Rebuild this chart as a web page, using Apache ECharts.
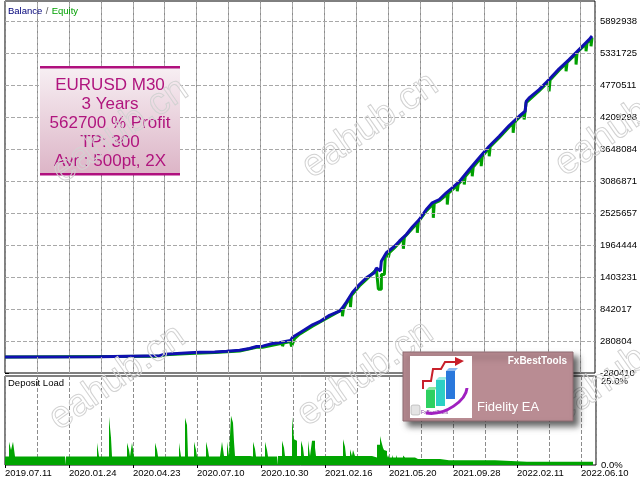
<!DOCTYPE html>
<html><head><meta charset="utf-8">
<script src="https://cdn.jsdelivr.net/npm/echarts@6/dist/echarts.min.js"></script>
<style>html,body{margin:0;padding:0;background:#fff}#c{width:640px;height:480px}</style>
</head><body><div id="c"></div>
<script>
// ---- data ----
const dateLabels = ['2019.07.11','2020.01.24','2020.04.23','2020.07.10','2020.10.30','2021.02.16','2021.05.20','2021.09.28','2022.02.11','2022.06.10'];
const dateTickPos = [0,64,128,192,256,320,384,448,512,576];
const gridX = [32,64,96,128,160,192,224,256,288,320,352,384,416,448,480,512,544,576];
const yTicks = [-280410,280804,842017,1403231,1964444,2525657,3086871,3648084,4209298,4770511,5331725,5892938];
const loadTicks = [0,25];

const balanceX = [0,95,155,160,185,195,210,222,235,245,252,258,268,275,282,286,288,295,308,315,325,335,338,342,348,355,362,370,372,376,377,382,390,395,402,408,415,422,428,435,442,448,455,465,475,485,495,505,515,521,522,525,535,545,555,565,575,585,588];
const balanceV = [1000,5000,22000,50000,75000,85000,90000,102000,120000,150000,185000,190000,237000,250000,278000,290000,345000,422000,565000,620000,730000,804000,863000,965000,1132000,1272000,1389000,1480000,1560000,1510000,1680000,1828000,1938000,2031000,2148000,2280000,2411000,2587000,2704000,2762000,2880000,2967000,3074000,3288000,3493000,3696000,3872000,4059000,4222000,4310000,4480000,4545000,4690000,4866000,5053000,5216000,5391000,5566000,5628000];

const equityX = [0,155,160,185,210,235,252,258,258,259,275,278,278,279,286,287,287,289,290,295,308,325,338,338,339,342,346,346,347,355,362,372,374,374,377,377,380,381,384,384,385,390,395,399,399,400,408,413,413,414,422,429,429,430,435,443,443,444,453,453,454,460,460,461,468,468,469,477,477,478,485,485,486,495,505,509,509,510,520,520,522,522,535,545,545,546,555,562,562,563,572,572,573,582,582,583,587,587,588];
const equityV = [1000,12000,38000,62000,78000,105000,170000,172000,145000,175000,232000,240000,190000,245000,270000,265000,185000,185000,320000,400000,540000,705000,835000,716000,840000,940000,1050000,877000,1080000,1245000,1362000,1535000,1540000,1189000,1189000,1447000,1447000,1790000,1800000,1745000,1830000,1913000,2006000,2090000,1898000,2100000,2255000,2350000,2178000,2370000,2562000,2690000,2441000,2700000,2737000,2855000,2674000,2870000,3010000,2907000,3030000,3150000,3025000,3165000,3310000,3170000,3330000,3500000,3346000,3515000,3670000,3521000,3690000,3847000,4034000,4100000,3931000,4115000,4285000,4164000,4164000,4460000,4665000,4840000,4660000,4860000,5028000,5150000,5011000,5165000,5320000,5128000,5340000,5490000,5362000,5510000,5580000,5449000,5600000];

const loadX = [0,4,6,8,10,60,61,92,94,104,106,107,122,124,125,127,129,150,152,153,174,176,180,182,183,189,191,192,201,203,204,215,217,219,222,224,226,228,229,230,245,248,250,251,260,262,263,272,273,277,279,280,287,289,290,292,296,298,299,303,305,307,310,311,338,340,341,345,347,348,350,367,372,375,376,378,379,381,382,383,384,387,388,391,392,398,400,410,413,415,428,430,435,444,446,447,448,455,457,459,461,465,467,477,478,490,522,523,543,545,575,576,578,579,581,582,585,587,588];
const loadV = [2.5,6.9,4.5,6.9,2.5,0,2.5,6.6,2.5,14.4,8.1,2.5,6.6,4.5,2.5,6.6,2.5,6.6,4.5,2.5,6.6,2.5,14.1,11.9,2.5,6.9,4.5,2.5,6.9,4.5,2.5,2.7,6.9,2.7,6.9,2.7,14.7,12.6,6.9,2.7,2.5,6.9,4.8,2.5,6.9,4.5,2.5,0,2.7,7.2,5.1,2.7,14.4,7.7,7.2,2.7,7.2,5.1,2.7,7.2,2.7,7.2,5.1,2.7,7.7,5.4,2.7,4.7,2.7,4.5,2.7,2.2,6.0,8.6,7.4,5.1,4.5,4.2,2.2,3.0,2.2,3.0,2.2,3.0,2.2,2.8,2.2,1.8,2.2,1.8,2.2,1.8,1.4,1.8,1.4,1.8,1.4,1.8,1.4,1.8,1.4,1.8,1.4,1.8,1.4,1.0,1.4,1.0,1.4,1.0,1.4,1.0,1.4,1.0,1.4,1.0,1.4,1.0,0];

const boxLines = ['EURUSD M30','3 Years','562700 % Profit','TP: 300','Avr : 500pt, 2X'];
const wmPos = [[67,191],[317,186],[570,184],[64,438],[312,434],[567,431]];

// ---- chart ----
const FF = 'Liberation Sans';
const gridCol = '#a8a8a8';
const chart = echarts.init(document.getElementById('c'), null, {renderer:'canvas'});

const pair = (xs, vs) => xs.map((x,i)=>[x, vs[i]]);

const graphics = [];
graphics.push({type:'text', x:8, y:11, z:20, style:{
  text:'{b|Balance} {s|/} {e|Equity}', textVerticalAlign:'middle',
  rich:{b:{fill:'#00007a',fontSize:9.5,fontFamily:FF}, s:{fill:'#555',fontSize:9.5,fontFamily:FF}, e:{fill:'#00a000',fontSize:9.5,fontFamily:FF}}
}});
graphics.push({type:'text', x:8, y:383, z:20, style:{text:'Deposit Load', fill:'#000', font:'9.5px '+FF, textVerticalAlign:'middle'}});

// info box
graphics.push({type:'rect', z:10, shape:{x:40,y:67,width:140,height:108}, style:{
  fill:{type:'linear',x:0,y:0,x2:0,y2:1,colorStops:[{offset:0,color:'#f7eff3'},{offset:1,color:'#dcb4c6'}]}}});
graphics.push({type:'rect', z:10, shape:{x:40,y:66,width:140,height:2.5}, style:{fill:'#b0107e'}});
graphics.push({type:'rect', z:10, shape:{x:40,y:173,width:140,height:2.5}, style:{fill:'#b0107e'}});
boxLines.forEach((t,i)=>{
  graphics.push({type:'text', z:10, x:110, y:85+i*19.2, style:{text:t, fill:'#b0157e', font:'17px '+FF, textAlign:'center', textVerticalAlign:'middle'}});
});

// watermarks
wmPos.forEach(p=>{
  graphics.push({type:'text', z:11, x:p[0], y:p[1], rotation:0.61, style:{
    text:'eahub.cn', font:'38px '+FF, fill:'rgba(255,255,255,0)', stroke:'#d2d2d2', lineWidth:1,
    textAlign:'left', textVerticalAlign:'bottom'}});
});

// logo box
graphics.push({type:'rect', z:12, shape:{x:403,y:352,width:170,height:69}, style:{
  fill:'#b98c93', stroke:'#8c6b71', lineWidth:1, shadowBlur:6, shadowOffsetX:5, shadowOffsetY:5, shadowColor:'rgba(0,0,0,0.6)'}});
graphics.push({type:'rect', z:13, shape:{x:410,y:356,width:62,height:62}, style:{fill:'#fff'}});
graphics.push({type:'polyline', z:14, shape:{points:[[423,389],[423,381],[431,381],[433,369],[441,369],[445,362],[456,362]]}, style:{stroke:'#c8202a', lineWidth:2, fill:null}});
graphics.push({type:'polygon', z:14, shape:{points:[[455,357],[464,361],[455,366]]}, style:{fill:'#c8202a'}});
graphics.push({type:'polygon', z:14, shape:{points:[[426,390],[429,387],[438,387],[435,390]]}, style:{fill:'#8ae8a0'}});
graphics.push({type:'rect', z:14, shape:{x:426,y:390,width:9,height:18}, style:{fill:'#2ed060'}});
graphics.push({type:'polygon', z:14, shape:{points:[[436,380],[439,377],[448,377],[445,380]]}, style:{fill:'#9aece4'}});
graphics.push({type:'rect', z:14, shape:{x:436,y:380,width:9,height:26}, style:{fill:'#2cd0c4'}});
graphics.push({type:'polygon', z:14, shape:{points:[[446,371],[449,368],[458,368],[455,371]]}, style:{fill:'#8ab8f0'}});
graphics.push({type:'rect', z:14, shape:{x:446,y:371,width:9,height:28}, style:{fill:'#2a78dc'}});
graphics.push({type:'bezierCurve', z:15, shape:{x1:426,y1:413,cpx1:446,cpy1:416,cpx2:466,cpy2:400,x2:467,y2:388}, style:{stroke:'#a020c0', lineWidth:3, fill:null}});
graphics.push({type:'rect', z:14, shape:{x:411,y:405,width:9,height:10,r:2}, style:{fill:'#e4e4e4', stroke:'#999', lineWidth:0.5}});
graphics.push({type:'text', z:14, x:421, y:413, style:{text:'FxBestTools', fill:'#8040a0', font:'5px '+FF, textVerticalAlign:'middle'}});
graphics.push({type:'text', z:14, x:567, y:361, style:{text:'FxBestTools', fill:'#fff', font:'bold 10px '+FF, textAlign:'right', textVerticalAlign:'middle'}});
graphics.push({type:'text', z:14, x:477, y:407, style:{text:'Fidelity EA', fill:'#fff', font:'13px '+FF, textAlign:'left', textVerticalAlign:'middle'}});

const dashLine = {color:gridCol, type:'dashed', width:1};
const xGridAxis = (gi)=>({gridIndex:gi, type:'value', min:0, max:591, interval:32,
  axisLine:{show:false}, axisTick:{show:false}, axisLabel:{show:false}, splitLine:{show:true, lineStyle:{color:'#8c8c8c', type:'dashed', width:1}}});

chart.setOption({
  animation:false,
  backgroundColor:'#fff',
  textStyle:{fontFamily:FF},
  grid:[
    {left:5, right:44, top:1, height:372, show:true, borderColor:'#000', borderWidth:1},
    {left:5, right:44, top:376, height:89, show:true, borderColor:'#000', borderWidth:1}
  ],
  xAxis:[
    xGridAxis(0),
    xGridAxis(1),
    {gridIndex:1, type:'value', min:0, max:591, position:'bottom',
     axisLine:{show:false},
     axisTick:{show:true, length:3, customValues:dateTickPos, lineStyle:{color:'#000'}},
     axisLabel:{show:true, customValues:dateTickPos, formatter:(v)=>dateLabels[dateTickPos.indexOf(v)] || '', align:'left', margin:3, color:'#000', fontSize:9.5, fontFamily:FF},
     splitLine:{show:false}}
  ],
  yAxis:[
    {gridIndex:0, type:'value', position:'right', min:-280410, max:6243350,
     axisLine:{show:false},
     axisTick:{show:true, length:4, customValues:yTicks, lineStyle:{color:'#000'}},
     axisLabel:{customValues:yTicks, margin:5, color:'#000', fontSize:9.5, fontFamily:FF, formatter:(v)=>String(v)},
     splitLine:{show:false}},
    {gridIndex:1, type:'value', position:'right', min:0, max:26.5,
     axisLine:{show:false}, axisTick:{show:false},
     axisLabel:{customValues:loadTicks, margin:5, color:'#000', fontSize:9.5, fontFamily:FF, formatter:(v)=>v.toFixed(1)+'%'},
     splitLine:{show:false}}
  ],
  series:[
    {name:'Equity', type:'line', xAxisIndex:0, yAxisIndex:0, data:pair(equityX, equityV), showSymbol:false, symbol:'none',
     lineStyle:{color:'#00a000', width:3}, z:3,
     markLine:{silent:true, symbol:'none', label:{show:false}, lineStyle:dashLine,
       data:yTicks.slice(1).map(v=>({yAxis:v})).concat(gridX.map(x=>({xAxis:x})))}},
    {name:'Balance', type:'line', xAxisIndex:0, yAxisIndex:0, data:pair(balanceX, balanceV), showSymbol:false, symbol:'none',
     lineStyle:{color:'#1010b0', width:3}, z:4},
    {name:'Deposit Load', type:'line', xAxisIndex:1, yAxisIndex:1, step:'end', data:pair(loadX, loadV), showSymbol:false, symbol:'none',
     lineStyle:{width:0, color:'#00a400'}, areaStyle:{color:'#00a400', opacity:1}, z:3}
  ],
  graphic:{elements:graphics}
});
</script></body></html>
